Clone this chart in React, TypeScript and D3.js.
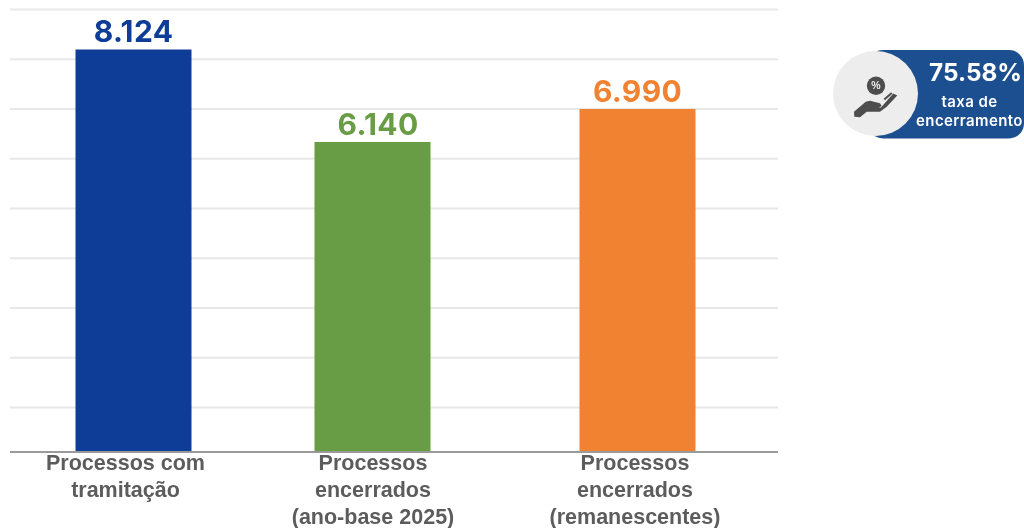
import React, { useRef, useEffect } from 'react';
import * as d3 from 'd3';

// bar heights as they sit against the gridlines in the picture; printed numbers differ a bit
const categories = ['com', 'ano-base', 'remanescentes'];
const barLevels = [8186, 6327, 6990];
const valueLabels = ['8.124', '6.140', '6.990'];
const barColors = ['#0f3d96', '#689c45', '#f08230'];
const categoryLines = [
  ['Processos com', 'tramitação'],
  ['Processos', 'encerrados', '(ano-base 2025)'],
  ['Processos', 'encerrados', '(remanescentes)'],
];
const gridTicks = [1000, 2000, 3000, 4000, 5000, 6000, 7000, 8000, 9000];
const badgeValue = '75.58%';
const badgeLines = ['taxa de', 'encerramento'];

const App: React.FC = () => {
  const ref = useRef<SVGSVGElement | null>(null);

  useEffect(() => {
    if (!ref.current) return;

    const svg = d3.select(ref.current);
    const width = 1024;
    const height = 528;
    const left = 10;
    const right = 778;
    const barWidth = 116;

    svg.attr('width', width).attr('height', height);
    svg.selectAll('*').remove();

    // the source is a slightly soft screenshot
    svg.append('defs').append('filter').attr('id', 'soft')
      .append('feGaussianBlur').attr('stdDeviation', 0.45);
    const root = svg.append('g').attr('filter', 'url(#soft)');

    // the three columns are not evenly spaced, and labels sit a little off the bars
    const x = d3.scaleOrdinal<string, number>().domain(categories).range([133.5, 372.5, 637.5]);
    const valueX = d3.scaleOrdinal<string, number>().domain(categories).range([133.5, 378, 637.5]);
    const labelX = d3.scaleOrdinal<string, number>().domain(categories).range([125.5, 373, 635]);
    // first step is shorter in the source image
    const y = d3.scaleLinear().domain([0, 1000, 9000]).range([452, 407, 9]);

    const grid = root.append('g').attr('transform', `translate(${left},0)`)
      .call(d3.axisLeft(y).tickValues(gridTicks).tickSize(-(right - left)).tickFormat(() => ''));
    grid.select('.domain').remove();
    grid.selectAll('line').attr('stroke', '#e8e8e8').attr('stroke-width', 2);

    root.selectAll('.bar')
      .data(categories)
      .enter()
      .append('rect')
      .attr('class', 'bar')
      .attr('x', d => x(d) - barWidth / 2)
      .attr('y', (d, i) => y(barLevels[i]))
      .attr('width', barWidth)
      .attr('height', (d, i) => y(0) - y(barLevels[i]))
      .attr('fill', (d, i) => barColors[i]);

    root.append('line')
      .attr('x1', left).attr('x2', right)
      .attr('y1', y(0)).attr('y2', y(0))
      .attr('stroke', '#9a9a9a').attr('stroke-width', 2);

    root.selectAll('.value')
      .data(categories)
      .enter()
      .append('text')
      .attr('class', 'value')
      .attr('x', d => valueX(d))
      .attr('y', (d, i) => y(barLevels[i]) - 7)
      .attr('text-anchor', 'middle')
      .attr('font-family', 'Inter')
      .attr('font-weight', 700)
      .attr('font-size', 30)
      .attr('letter-spacing', 0.35)
      .attr('fill', (d, i) => barColors[i])
      .text((d, i) => valueLabels[i]);

    categories.forEach((c, i) => {
      categoryLines[i].forEach((line, j) => {
        root.append('text')
          .attr('x', labelX(c))
          .attr('y', 469.5 + j * 27.25)
          .attr('text-anchor', 'middle')
          .attr('font-family', 'Liberation Sans')
          .attr('font-weight', 700)
          .attr('font-size', 21.5)
          .attr('fill', '#5c5c5c')
          .text(line);
      });
    });

    // badge on the right
    const badge = root.append('g');
    badge.append('rect')
      .attr('x', 868).attr('y', 50).attr('width', 156).attr('height', 88.5).attr('rx', 15)
      .attr('fill', '#1f4f8f');
    badge.append('circle').attr('cx', 875.5).attr('cy', 93.5).attr('r', 42.5).attr('fill', '#ededed');
    badge.append('text')
      .attr('x', 975.5).attr('y', 81)
      .attr('text-anchor', 'middle')
      .attr('font-family', 'Inter').attr('font-weight', 700).attr('font-size', 24.3)
      .attr('fill', '#fff')
      .text(badgeValue);
    badgeLines.forEach((line, j) => {
      badge.append('text')
        .attr('x', 969.5)
        .attr('y', 107 + j * 19)
        .attr('text-anchor', 'middle')
        .attr('font-family', 'Inter').attr('font-weight', 600).attr('font-size', 15)
        .attr('letter-spacing', 0.4)
        .attr('fill', '#fff')
        .text(line);
    });

    // hand holding a percent coin
    const icon = badge.append('g').attr('fill', '#4d4d4d');
    icon.append('circle').attr('cx', 876).attr('cy', 85.7).attr('r', 9.2);
    icon.append('text')
      .attr('x', 876).attr('y', 89.3)
      .attr('text-anchor', 'middle')
      .attr('font-family', 'Liberation Sans').attr('font-weight', 700).attr('font-size', 10.5)
      .attr('fill', '#ededed')
      .text('%');
    icon.append('path')
      .attr('d', 'M854.3 116.7 L854 111.7 L865.7 101.7 L870 100.7 L880 103.3 L881.7 106 L878.3 107.7 L873 107 L881 107.5 L893.3 93.5 L897.3 95.5 L886.7 106.7 L880 111.7 L866.7 111.7 L860 117.3 Z');
    icon.append('path')
      .attr('d', 'M884.3 99.5 L891.7 93')
      .attr('stroke', '#4d4d4d').attr('stroke-width', 2).attr('fill', 'none');
  }, []);

  return <svg ref={ref} style={{ position: 'absolute', left: 0, top: 0 }}></svg>;
};

export default App;
